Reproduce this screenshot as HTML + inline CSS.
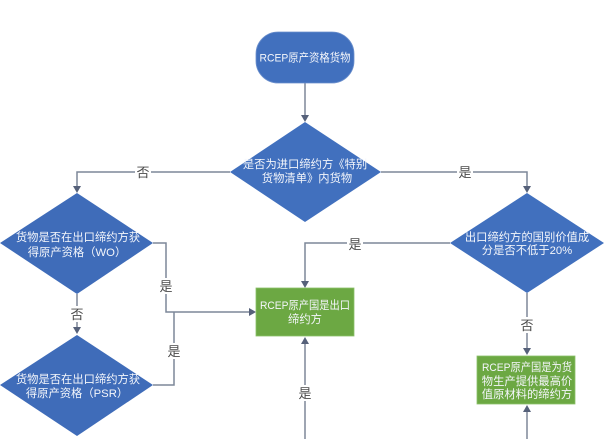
<!DOCTYPE html>
<html>
<head>
<meta charset="utf-8">
<style>
  html,body{margin:0;padding:0;background:#fff;}
  body{width:605px;height:439px;overflow:hidden;}
  svg{display:block;}
  .t{font-family:"Liberation Sans","Noto Sans CJK SC",sans-serif;font-size:11.3px;fill:#f4f6fb;text-anchor:middle;}
  .l{font-family:"Liberation Sans","Noto Sans CJK SC",sans-serif;font-size:13px;fill:#4a4a4a;text-anchor:middle;}
  .ln{stroke:#7d8799;stroke-width:1.5;fill:none;}
  .ar{fill:#56617a;}
</style>
</head>
<body>
<svg width="605" height="439" viewBox="0 0 605 439" xmlns="http://www.w3.org/2000/svg">
  <rect x="0" y="0" width="605" height="439" fill="#ffffff"/>

  <!-- connectors -->
  <polyline class="ln" points="305,83 305,116"/>
  <polygon class="ar" points="301,115 309,115 305,122"/>

  <polyline class="ln" points="230,172 77,172 77,187"/>
  <polygon class="ar" points="73,186 81,186 77,193"/>

  <polyline class="ln" points="381,172 527,172 527,187"/>
  <polygon class="ar" points="523,186 531,186 527,193"/>

  <polyline class="ln" points="153,243 166,243 166,312 250,312"/>
  <polygon class="ar" points="249,308 249,316 256,312"/>

  <polyline class="ln" points="77,294 77,328"/>
  <polygon class="ar" points="73,327 81,327 77,334"/>

  <polyline class="ln" points="153,385 174,385 174,312"/>

  <polyline class="ln" points="305,439 305,343"/>
  <polygon class="ar" points="301,344 309,344 305,337"/>

  <polyline class="ln" points="450,243 305,243 305,282"/>
  <polygon class="ar" points="301,281 309,281 305,288"/>

  <polyline class="ln" points="527,293 527,349"/>
  <polygon class="ar" points="523,348 531,348 527,355"/>

  <polyline class="ln" points="527,439 527,411"/>
  <polygon class="ar" points="523,412 531,412 527,405"/>

  <!-- shapes -->
  <rect x="256" y="32" width="98" height="51" rx="22" ry="22" fill="#4170be" stroke="#6b8fcc" stroke-width="0.8"/>
  <polygon points="305,122 381,172 305,222 230,172" fill="#4170be"/>
  <polygon points="77,193 153,243 77,294 0,243" fill="#3f6cb9"/>
  <polygon points="77,335 153,385 77,436 0,385" fill="#3f6cb9"/>
  <polygon points="527,193 604,243 527,293 450,243" fill="#4170be"/>
  <rect x="256" y="288" width="98" height="48" fill="#6ca843" stroke="#8cc06a" stroke-width="0.8"/>
  <rect x="477" y="356" width="98" height="48" fill="#6ca843" stroke="#8cc06a" stroke-width="0.8"/>

  <!-- shape text -->
  <text class="t" x="305" y="61.5" textLength="91" lengthAdjust="spacingAndGlyphs">RCEP原产资格货物</text>
  <text class="t" x="305" y="168">是否为进口缔约方《特别</text>
  <text class="t" x="307" y="182">货物清单》内货物</text>

  <text class="t" x="78" y="241">货物是否在出口缔约方获</text>
  <text class="t" x="77" y="256">得原产资格（WO）</text>

  <text class="t" x="78" y="383">货物是否在出口缔约方获</text>
  <text class="t" x="77" y="397">得原产资格（PSR）</text>

  <text class="t" x="527" y="241">出口缔约方的国别价值成</text>
  <text class="t" x="527" y="254">分是否不低于20%</text>

  <text class="t" x="305" y="309" textLength="90" lengthAdjust="spacingAndGlyphs">RCEP原产国是出口</text>
  <text class="t" x="305" y="323">缔约方</text>

  <text class="t" x="527" y="371" textLength="90" lengthAdjust="spacingAndGlyphs">RCEP原产国是为货</text>
  <text class="t" x="527" y="385">物生产提供最高价</text>
  <text class="t" x="527" y="398">值原材料的缔约方</text>

  <!-- connector labels -->
  <rect x="135" y="164" width="16" height="16" fill="#fff"/>
  <text class="l" x="143" y="177">否</text>
  <rect x="457" y="164" width="16" height="16" fill="#fff"/>
  <text class="l" x="465" y="177">是</text>
  <rect x="158" y="278" width="16" height="16" fill="#fff"/>
  <text class="l" x="166" y="291">是</text>
  <rect x="69" y="306" width="16" height="16" fill="#fff"/>
  <text class="l" x="77" y="319">否</text>
  <rect x="166" y="343" width="16" height="16" fill="#fff"/>
  <text class="l" x="174" y="356">是</text>
  <rect x="347" y="236" width="16" height="16" fill="#fff"/>
  <text class="l" x="355" y="249">是</text>
  <rect x="297" y="385" width="16" height="16" fill="#fff"/>
  <text class="l" x="305" y="398">是</text>
  <rect x="519" y="317" width="16" height="16" fill="#fff"/>
  <text class="l" x="527" y="330">否</text>
</svg>
</body>
</html>
